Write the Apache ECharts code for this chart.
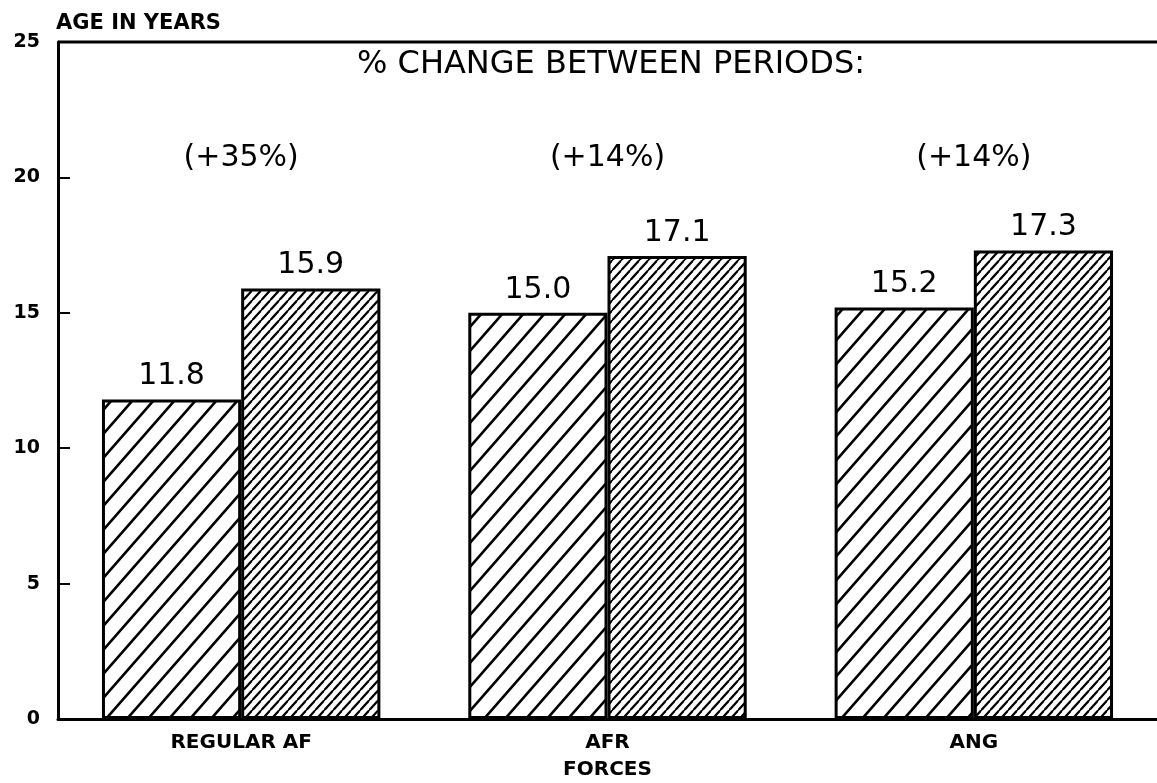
<!DOCTYPE html>
<html>
<head>
<meta charset="utf-8">
<script src="https://cdn.jsdelivr.net/npm/echarts@6/dist/echarts.min.js"></script>
<style>html,body{margin:0;padding:0;background:#fff}#c{width:1157px;height:783px}</style>
</head>
<body>
<div id="c"></div>
<script>
const categories = ['REGULAR AF', 'AFR\nFORCES', 'ANG'];
const period1 = [11.8, 15.0, 15.2];
const period2 = [15.9, 17.1, 17.3];
const pctChange = ['(+35%)', '(+14%)', '(+14%)'];
const pctLabelLevel = [20.7, 20.7, 20.7];
const yTicks = [0, 5, 10, 15, 20, 25];

function hatch(w, h, lw) {
  const c = document.createElement('canvas');
  c.width = w; c.height = h;
  const g = c.getContext('2d');
  g.fillStyle = '#fff'; g.fillRect(0, 0, w, h);
  g.strokeStyle = '#000'; g.lineWidth = lw; g.lineCap = 'butt';
  g.beginPath();
  for (let k = -1; k <= 1; k++) {
    g.moveTo(k * w - 0.3 * w, h + 0.3 * h);
    g.lineTo(k * w + w + 0.3 * w, -0.3 * h);
  }
  g.stroke();
  return c;
}

const chart = echarts.init(document.getElementById('c'), null, {renderer: 'canvas'});
const labelFont = '"DejaVu Sans", sans-serif';
chart.setOption({
  animation: false,
  backgroundColor: '#fff',
  title: {
    text: '% CHANGE BETWEEN PERIODS:',
    left: 606, top: 44,
    textAlign: 'center',
    textStyle: {fontFamily: labelFont, fontSize: 32, fontWeight: 'normal', color: '#000'}
  },
  grid: {left: 58, right: 0, top: 42, bottom: 59, containLabel: false},
  xAxis: {
    type: 'category',
    data: categories,
    axisLine: {lineStyle: {color: '#000', width: 3}},
    axisTick: {show: false},
    axisLabel: {color: '#000', fontFamily: labelFont, fontWeight: 'bold', fontSize: 20, margin: 10, lineHeight: 27}
  },
  yAxis: {
    type: 'value', min: 0, max: 25, interval: 5,
    name: 'AGE IN YEARS',
    nameLocation: 'end',
    nameGap: 8,
    nameTextStyle: {color: '#000', fontFamily: labelFont, fontWeight: 'bold', fontSize: 21, align: 'left', padding: [0, 0, 0, -2]},
    axisLine: {show: true, lineStyle: {color: '#000', width: 3}},
    axisTick: {show: true, inside: true, length: 12, lineStyle: {color: '#000', width: 2}},
    axisLabel: {color: '#000', fontFamily: labelFont, fontWeight: 'bold', fontSize: 19, margin: 18},
    splitLine: {show: false}
  },
  graphic: [{
    type: 'line', shape: {x1: 58, y1: 42, x2: 1157, y2: 42},
    style: {stroke: '#000', lineWidth: 3}, z: 100
  }],
  series: [
    {
      type: 'bar', data: period1, barGap: '0%', barCategoryGap: '24%',
      itemStyle: {color: {image: hatch(21, 24, 2.6), repeat: 'repeat'}, borderColor: '#000', borderWidth: 3},
      label: {show: true, position: 'top', distance: 8, color: '#000', fontFamily: labelFont, fontSize: 30,
        formatter: p => p.value.toFixed(1)}
    },
    {
      type: 'bar', data: period2, barGap: '0%', barCategoryGap: '24%',
      itemStyle: {color: {image: hatch(9.5, 10.5, 2.2), repeat: 'repeat'}, borderColor: '#000', borderWidth: 3},
      label: {show: true, position: 'top', distance: 8, color: '#000', fontFamily: labelFont, fontSize: 30,
        formatter: p => p.value.toFixed(1)}
    },
    {
      type: 'scatter', data: pctLabelLevel, symbolSize: 0, silent: true,
      itemStyle: {opacity: 1},
      label: {show: true, position: 'inside', color: '#000', opacity: 1, fontFamily: labelFont, fontSize: 30,
        formatter: p => pctChange[p.dataIndex]}
    }
  ]
});
</script>
</body>
</html>
